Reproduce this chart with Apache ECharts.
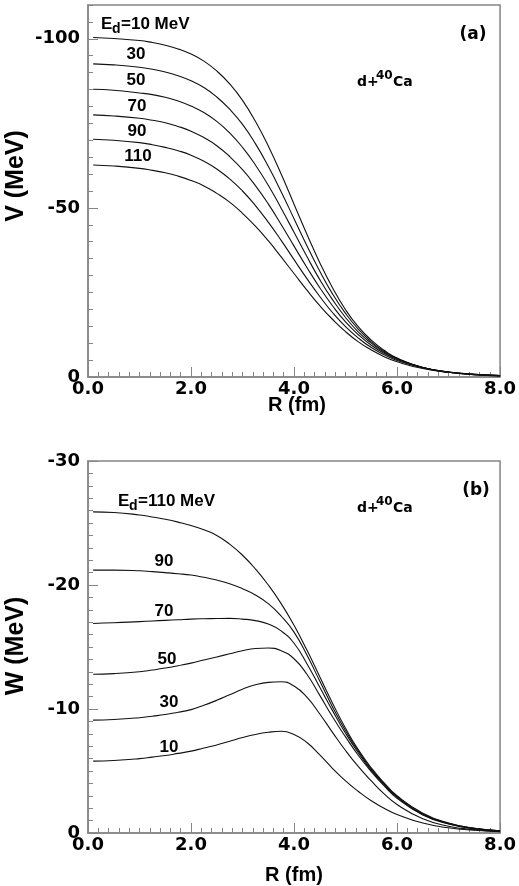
<!DOCTYPE html>
<html>
<head>
<meta charset="utf-8">
<title>d+40Ca potentials</title>
<script src="https://cdn.jsdelivr.net/npm/echarts@6/dist/echarts.min.js"></script>
<style>
  html, body { margin: 0; padding: 0; background: #fff; }
  #chart { width: 519px; height: 886px; }
</style>
</head>
<body>
<div id="chart"></div>
<script>
// radius grid (fm), shared by all curves; 0.25 fm steps where the curves bend
var rGrid = [0.1, 0.5, 1.0, 1.25, 1.5, 1.75, 2.0, 2.25, 2.5, 2.75, 3.0, 3.25, 3.5, 3.75, 4.0,
  4.25, 4.5, 4.75, 5.0, 5.25, 5.5, 5.75, 6.0, 6.5, 7.0, 7.5, 8.0];

// panel (a): real part V (MeV)
var energies = ['10', '30', '50', '70', '90', '110'];
var v10  = [-100.4, -100.1, -99.5, -98.9, -98.1, -97.0, -95.5, -93.4, -90.5, -86.7, -81.8, -75.6, -68.3, -60.0, -51.1, -42.2, -33.8, -26.3, -19.9, -14.8, -10.9, -7.9, -5.6, -2.8, -1.4, -0.7, -0.3];
var v30  = [-92.6, -92.3, -91.6, -91.0, -90.2, -89.1, -87.6, -85.6, -82.8, -79.2, -74.7, -69.0, -62.3, -54.8, -46.8, -38.8, -31.3, -24.5, -18.8, -14.1, -10.4, -7.6, -5.5, -2.8, -1.4, -0.7, -0.4];
var v50  = [-85.1, -84.8, -84.0, -83.5, -82.7, -81.6, -80.1, -78.2, -75.6, -72.2, -67.9, -62.7, -56.7, -49.9, -42.8, -35.6, -28.8, -22.8, -17.6, -13.3, -10.0, -7.3, -5.4, -2.8, -1.5, -0.8, -0.4];
var v70  = [-77.5, -77.2, -76.5, -75.9, -75.2, -74.1, -72.7, -70.8, -68.4, -65.2, -61.3, -56.6, -51.2, -45.1, -38.7, -32.4, -26.4, -21.0, -16.3, -12.5, -9.4, -7.0, -5.2, -2.8, -1.5, -0.8, -0.4];
var v90  = [-70.3, -70.0, -69.3, -68.7, -67.9, -66.9, -65.6, -63.8, -61.5, -58.6, -55.0, -50.7, -45.8, -40.4, -34.7, -29.1, -23.8, -19.0, -14.9, -11.5, -8.7, -6.6, -4.9, -2.7, -1.4, -0.8, -0.4];
var v110 = [-62.7, -62.4, -61.7, -61.1, -60.4, -59.4, -58.1, -56.5, -54.3, -51.7, -48.4, -44.6, -40.3, -35.5, -30.6, -25.7, -21.1, -17.0, -13.4, -10.4, -8.0, -6.0, -4.5, -2.5, -1.4, -0.7, -0.4];

// panel (b): imaginary part W (MeV)
var w10  = [-5.8, -5.85, -6.0, -6.12, -6.25, -6.42, -6.6, -6.85, -7.1, -7.4, -7.7, -7.95, -8.12, -8.2, -7.95, -7.3, -6.3, -5.2, -4.2, -3.35, -2.6, -2.0, -1.5, -0.8, -0.42, -0.22, -0.1];
var w30  = [-9.1, -9.15, -9.3, -9.42, -9.55, -9.74, -9.95, -10.3, -10.7, -11.15, -11.6, -11.95, -12.15, -12.2, -11.85, -10.95, -9.6, -8.1, -6.65, -5.35, -4.2, -3.15, -2.3, -1.15, -0.55, -0.27, -0.12];
var w50  = [-12.8, -12.85, -13.0, -13.14, -13.3, -13.49, -13.7, -13.95, -14.2, -14.45, -14.7, -14.88, -14.92, -14.7, -14.05, -12.8, -11.1, -9.35, -7.75, -6.25, -4.95, -3.8, -2.8, -1.45, -0.72, -0.35, -0.16];
var w70  = [-16.9, -16.95, -17.05, -17.1, -17.15, -17.2, -17.25, -17.28, -17.3, -17.31, -17.25, -17.13, -16.85, -16.3, -15.3, -13.65, -11.75, -9.85, -8.05, -6.45, -5.05, -3.9, -2.9, -1.5, -0.75, -0.36, -0.17];
var w90  = [-21.2, -21.2, -21.15, -21.08, -21.0, -20.91, -20.8, -20.62, -20.4, -20.1, -19.7, -19.2, -18.5, -17.5, -16.2, -14.35, -12.25, -10.15, -8.25, -6.6, -5.15, -3.97, -2.95, -1.55, -0.78, -0.37, -0.17];
var w110 = [-25.9, -25.85, -25.65, -25.49, -25.3, -25.07, -24.8, -24.45, -24.0, -23.3, -22.4, -21.3, -20.0, -18.5, -16.75, -14.75, -12.6, -10.45, -8.45, -6.7, -5.25, -4.05, -3.0, -1.6, -0.8, -0.38, -0.18];

var xTicks = [0, 2, 4, 6, 8];
var vLabelTicks = [-100, -50, 0];

var FONT = '"Liberation Sans", Arial, sans-serif';
var WIDE = '"DejaVu Sans", sans-serif';
var FRAME = '#858585';

function pairs(values) {
  return values.map(function (v, i) { return [rGrid[i], v]; });
}

function curve(name, values, axisIdx, yIdx) {
  return {
    name: name,
    type: 'line',
    xAxisIndex: axisIdx,
    yAxisIndex: yIdx,
    data: pairs(values),
    showSymbol: false,
    smooth: 0.5,
    silent: true,
    lineStyle: { color: '#111', width: 1.1 }
  };
}

var tickLabel = { color: '#000', fontFamily: WIDE, fontWeight: 'bold', fontSize: 18 };

function xAxisFor(gridIdx) {
  return {
    type: 'value',
    gridIndex: gridIdx,
    min: xTicks[0],
    max: xTicks[xTicks.length - 1],
    interval: 2,
    axisLine: { lineStyle: { color: FRAME, width: 1.5 } },
    axisTick: { inside: true, length: 10, lineStyle: { color: FRAME } },
    minorTick: { show: true, splitNumber: 10, length: 5, lineStyle: { color: FRAME } },
    splitLine: { show: false },
    axisLabel: Object.assign({
      margin: 3,
      formatter: function (v) { return v.toFixed(1); }
    }, tickLabel)
  };
}

function txt(x, y, s, size, align, rot, family) {
  return {
    type: 'text', x: x, y: y, rotation: rot || 0, silent: true,
    style: {
      text: s, fill: '#000', font: 'bold ' + size + 'px ' + (family || FONT),
      align: align || 'center', verticalAlign: 'middle',
      textAlign: align || 'center', textVerticalAlign: 'middle'
    }
  };
}

// "E_d=... MeV" with subscript d
function edLabel(x, y, rest) {
  return [
    txt(x, y, 'E', 17, 'left'),
    txt(x + 11, y + 5, 'd', 14, 'left'),
    txt(x + 20, y, rest, 17, 'left')
  ];
}

// "d+40Ca" with superscript 40
function reaction(x, y) {
  return [
    txt(x, y, 'd+', 14, 'left', 0, WIDE),
    txt(x + 19, y - 6, '40', 12, 'left', 0, WIDE),
    txt(x + 36, y, 'Ca', 14, 'left', 0, WIDE)
  ];
}

var chart = echarts.init(document.getElementById('chart'));

var graphics = []
  .concat(edLabel(101, 24, '=10 MeV'))
  .concat([
    txt(136, 54, '30', 17), txt(136, 80, '50', 17), txt(137, 106, '70', 17),
    txt(137, 131, '90', 17), txt(138, 156, '110', 17),
    txt(473, 35, '(a)', 17, 'center', 0, WIDE)
  ])
  .concat(reaction(357, 82))
  .concat(edLabel(118, 501, '=110 MeV'))
  .concat([
    txt(164, 561, '90', 17), txt(164, 611, '70', 17), txt(167, 659, '50', 17),
    txt(169, 702, '30', 17), txt(169, 747, '10', 17),
    txt(476, 491, '(b)', 17, 'center', 0, WIDE)
  ])
  .concat(reaction(357, 508))
  .concat([
    txt(297, 405, 'R (fm)', 20),
    txt(294, 875, 'R (fm)', 20),
    txt(16, 176, 'V (MeV)', 25, 'center', Math.PI / 2),
    txt(16, 646, 'W (MeV)', 25, 'center', Math.PI / 2)
  ]);

var option = {
  animation: false,
  backgroundColor: '#fff',
  grid: [
    { left: 88, right: 11, top: 5, height: 372, show: true, borderColor: FRAME, borderWidth: 1.5 },
    { left: 88, right: 11, top: 461, height: 372, show: true, borderColor: FRAME, borderWidth: 1.5 }
  ],
  xAxis: [xAxisFor(0), xAxisFor(1)],
  yAxis: [
    {
      // panel (a) main axis: labels and long ticks
      type: 'value', gridIndex: 0, min: -110, max: 0, inverse: true, position: 'left',
      axisLine: { lineStyle: { color: FRAME, width: 1.5 } },
      axisTick: { inside: true, length: 10, customValues: vLabelTicks, lineStyle: { color: FRAME } },
      splitLine: { show: false },
      axisLabel: Object.assign({ customValues: vLabelTicks, margin: 8 }, tickLabel)
    },
    {
      // panel (a) short ticks every 5 MeV
      type: 'value', gridIndex: 0, min: -110, max: 0, interval: 5, inverse: true, position: 'left',
      axisLine: { show: false },
      axisTick: { inside: true, length: 5, lineStyle: { color: FRAME } },
      axisLabel: { show: false },
      splitLine: { show: false }
    },
    {
      type: 'value', gridIndex: 1, min: -30, max: 0, interval: 10, inverse: true, position: 'left',
      axisLine: { lineStyle: { color: FRAME, width: 1.5 } },
      axisTick: { inside: true, length: 10, lineStyle: { color: FRAME } },
      minorTick: { show: true, splitNumber: 10, length: 5, lineStyle: { color: FRAME } },
      splitLine: { show: false },
      axisLabel: Object.assign({ margin: 8 }, tickLabel)
    }
  ],
  series: [
    curve('V ' + energies[0], v10, 0, 0),
    curve('V ' + energies[1], v30, 0, 0),
    curve('V ' + energies[2], v50, 0, 0),
    curve('V ' + energies[3], v70, 0, 0),
    curve('V ' + energies[4], v90, 0, 0),
    curve('V ' + energies[5], v110, 0, 0),
    curve('W ' + energies[0], w10, 1, 2),
    curve('W ' + energies[1], w30, 1, 2),
    curve('W ' + energies[2], w50, 1, 2),
    curve('W ' + energies[3], w70, 1, 2),
    curve('W ' + energies[4], w90, 1, 2),
    curve('W ' + energies[5], w110, 1, 2)
  ],
  graphic: graphics
};

chart.setOption(option);
</script>
</body>
</html>
